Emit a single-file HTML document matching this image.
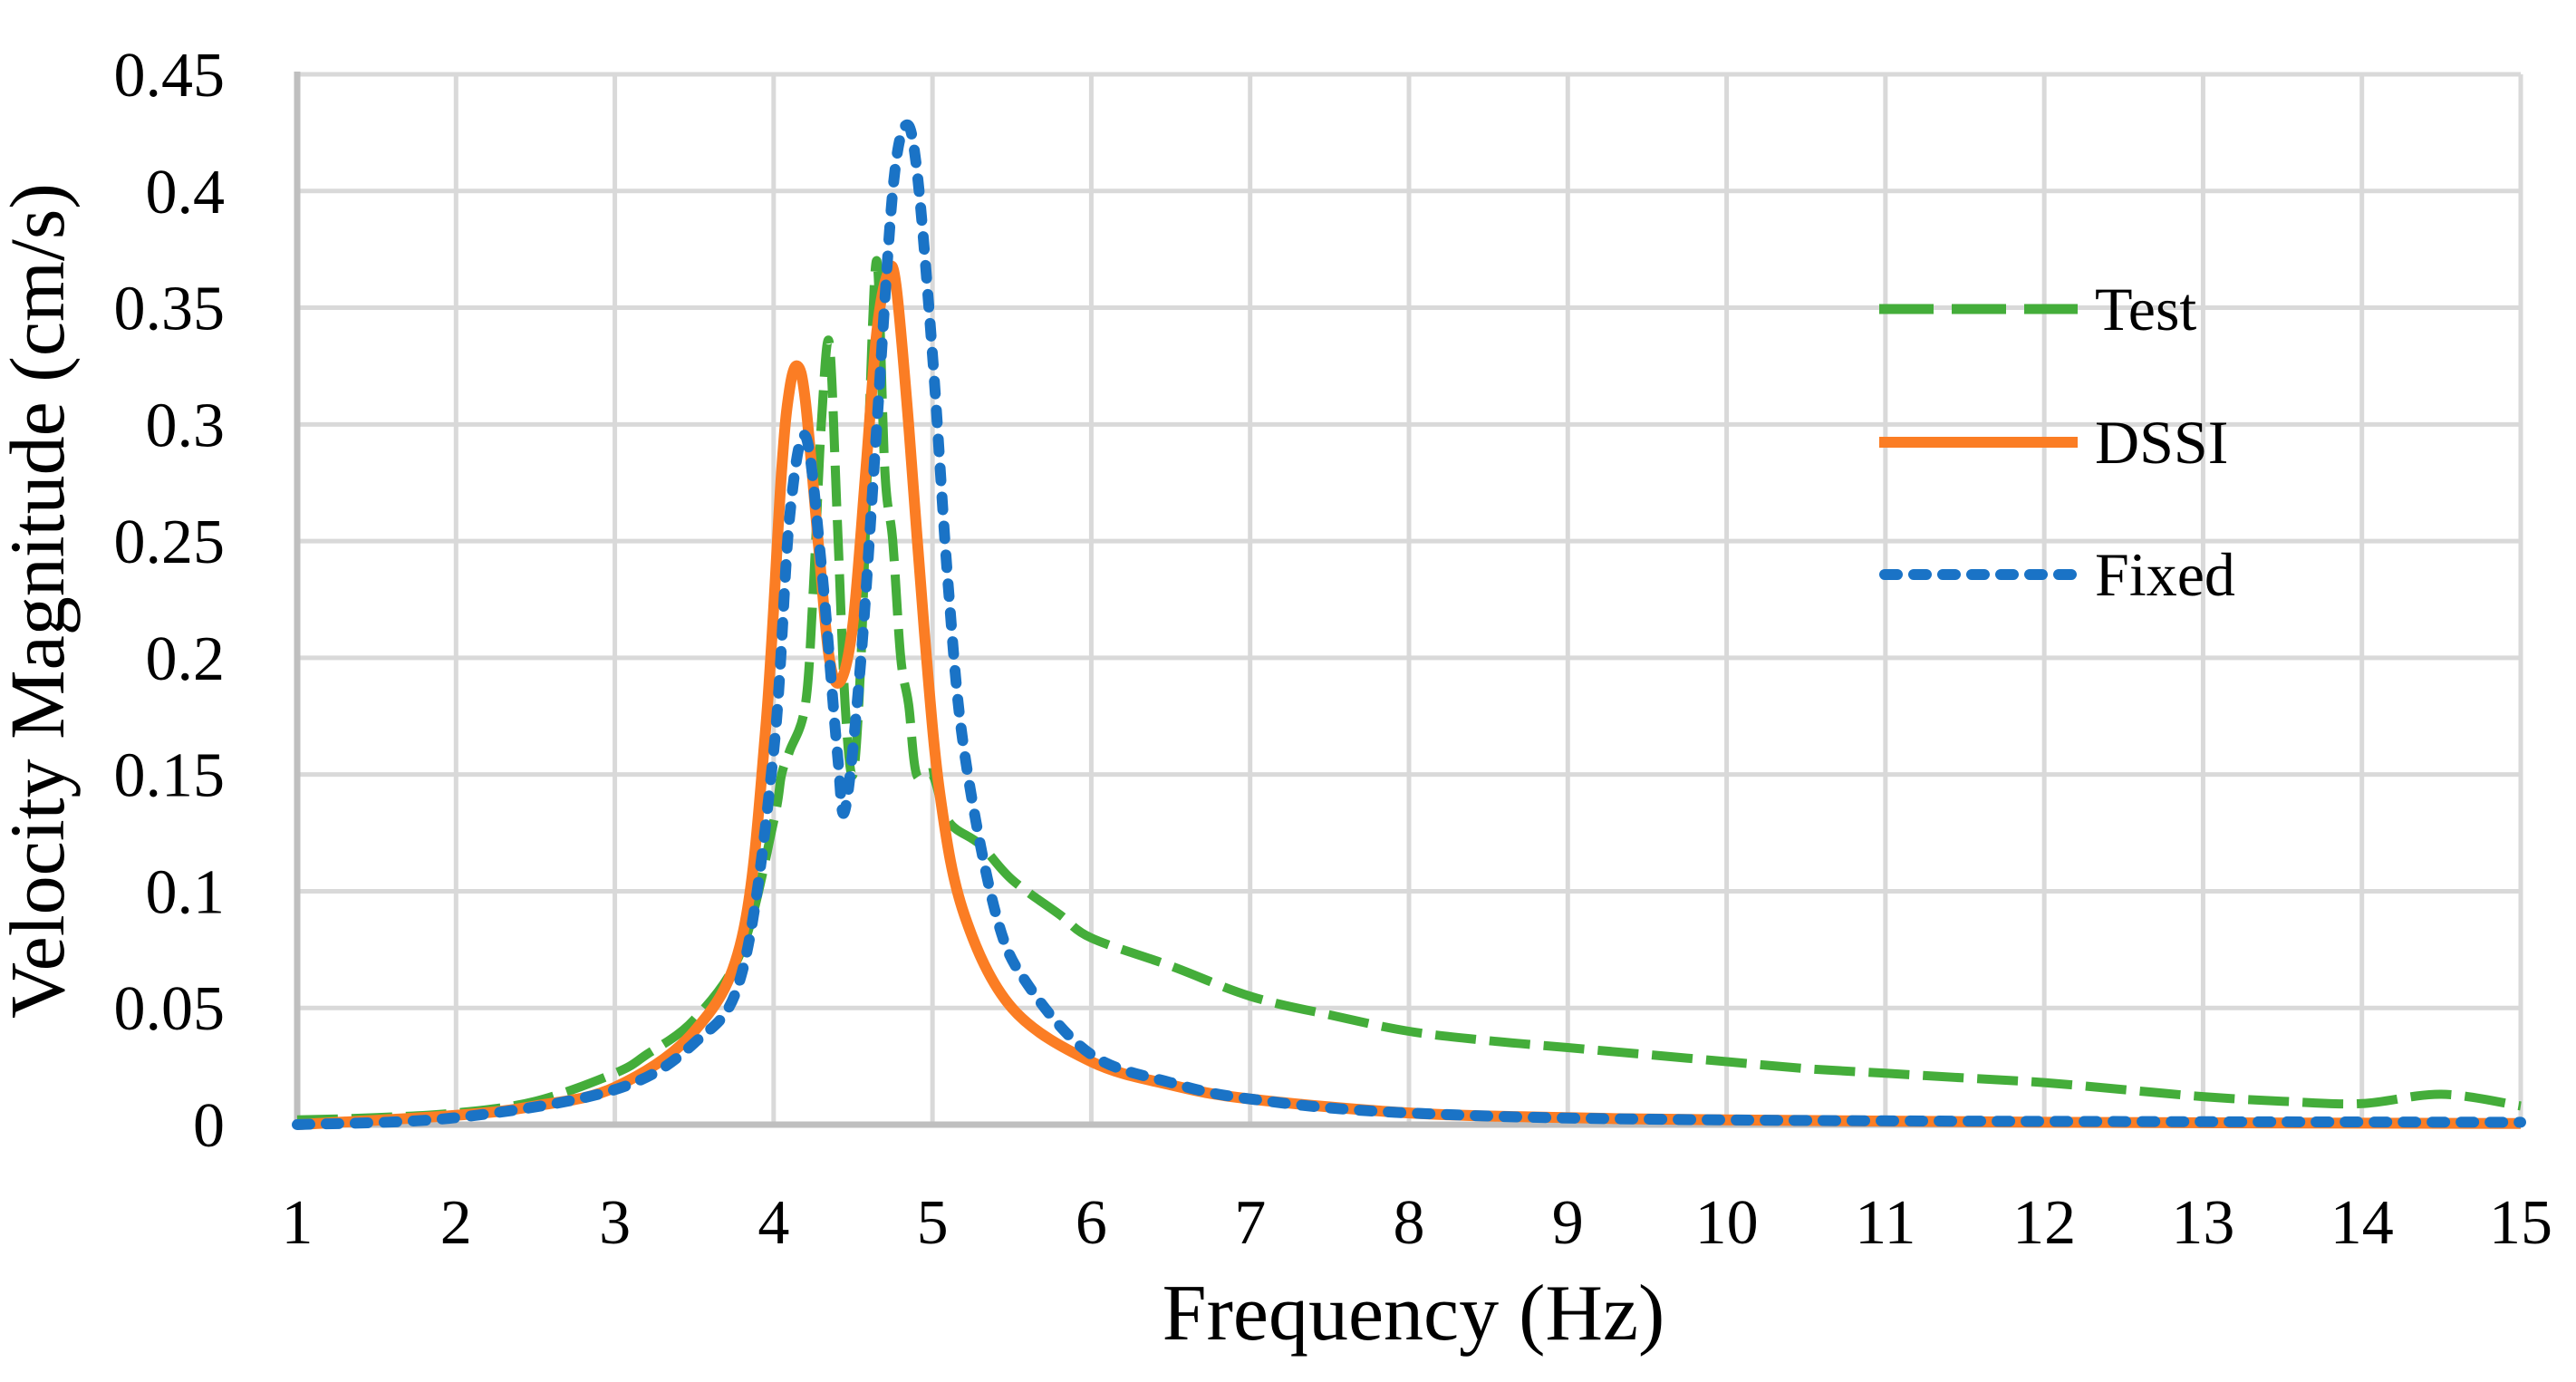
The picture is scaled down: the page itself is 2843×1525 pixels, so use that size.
<!DOCTYPE html>
<html><head><meta charset="utf-8"><style>
html,body{margin:0;padding:0;background:#fff;}
svg{display:block;}
text{font-family:"Liberation Serif",serif;fill:#000;}
</style></head><body>
<svg id="chart" width="2843" height="1525" viewBox="0 0 2843 1525" xmlns="http://www.w3.org/2000/svg">
<g id="grid"></g>
<g id="axes"></g>
<g id="series"></g>
<text x="70" y="663" font-size="86" text-anchor="middle" transform="rotate(-90 70 663)">Velocity Magnitude (cm/s)</text>
<text x="1560" y="1478" font-size="88" text-anchor="middle">Frequency (Hz)</text>
<g>
<g>
<line x1="2074" y1="341" x2="2293" y2="341" stroke="#44ad3a" stroke-width="11" stroke-dasharray="60,20"/>
<text x="2312" y="364" font-size="68">Test</text></g>
<g>
<line x1="2074" y1="488" x2="2293" y2="488" stroke="#fb7d24" stroke-width="12"/>
<text x="2312" y="511" font-size="68">DSSI</text></g>
<g>
<line x1="2080" y1="634" x2="2290" y2="634" stroke="#1a73c6" stroke-width="12" stroke-dasharray="14,18" stroke-linecap="round"/>
<text x="2312" y="657" font-size="68">Fixed</text></g>
</g>
</svg>
<script>
const xTicks=[1,2,3,4,5,6,7,8,9,10,11,12,13,14,15];
const yTicks=[0,0.05,0.1,0.15,0.2,0.25,0.3,0.35,0.4,0.45];
const yTickLabels=["0","0.05","0.1","0.15","0.2","0.25","0.3","0.35","0.4","0.45"];
const testF=[1,1.5,2,2.5,3,3.2,3.5,3.8,4.0,4.05,4.1,4.2,4.25,4.3,4.35,4.4,4.45,4.5,4.55,4.6,4.65,4.7,4.75,4.8,4.85,4.9,5.0,5.1,5.3,5.5,5.8,6,6.5,7,7.5,8,8.5,9,9.5,10,10.5,11,11.5,12,12.5,13,13.5,14,14.5,15];
const testV=[0.002,0.003,0.005,0.01,0.022,0.03,0.045,0.075,0.13,0.15,0.16,0.18,0.23,0.3,0.335,0.26,0.18,0.15,0.2,0.3,0.37,0.28,0.25,0.2,0.18,0.15,0.15,0.13,0.12,0.105,0.09,0.08,0.068,0.055,0.047,0.04,0.036,0.033,0.03,0.027,0.024,0.022,0.02,0.018,0.015,0.012,0.01,0.009,0.013,0.008];
const dssiF=[1,2,2.5,3,3.5,3.8,3.95,4.05,4.1,4.15,4.2,4.28,4.35,4.42,4.5,4.58,4.65,4.72,4.77,4.85,4.95,5.05,5.2,5.5,6,6.5,7,8,9,10,12,15];
const dssiV=[0,0.004,0.008,0.016,0.04,0.08,0.17,0.28,0.315,0.325,0.31,0.25,0.2,0.19,0.215,0.28,0.34,0.365,0.36,0.3,0.21,0.14,0.09,0.05,0.027,0.017,0.011,0.005,0.003,0.002,0.001,0.0005];
const fixedF=[1,2,3,3.5,3.8,4.0,4.1,4.2,4.3,4.4,4.45,4.55,4.65,4.75,4.83,4.9,5.0,5.1,5.2,5.4,5.6,6,6.5,7,8,10,15];
const fixedV=[0,0.003,0.015,0.035,0.065,0.16,0.26,0.295,0.24,0.16,0.135,0.2,0.3,0.4,0.428,0.41,0.33,0.23,0.16,0.09,0.06,0.03,0.018,0.011,0.005,0.002,0.001];

const X0=328,X1=2782,Y0=1241,Y1=82;
const xs=f=>X0+(f-1)/(15-1)*(X1-X0);
const ys=v=>Y0-v/0.45*(Y0-Y1);
const NS="http://www.w3.org/2000/svg";
const grid=document.getElementById('grid'),axes=document.getElementById('axes'),ser=document.getElementById('series');
function mk(tag,attrs,parent){const e=document.createElementNS(NS,tag);for(const k in attrs)e.setAttribute(k,attrs[k]);parent.appendChild(e);return e;}
xTicks.forEach(f=>{
  if(f>1){const l=mk('line',{x1:xs(f),x2:xs(f),y1:Y1,y2:Y0,stroke:'#d9d9d9','stroke-width':5},grid);
  
  }
  const t=mk('text',{x:xs(f),y:1372,'font-size':70,'text-anchor':'middle'},axes);t.textContent=f;
  
  
});
yTicks.forEach((v,i)=>{
  if(v>0){const l=mk('line',{x1:X0,x2:X1,y1:ys(v),y2:ys(v),stroke:'#d9d9d9','stroke-width':5},grid);
  
  }
  const t=mk('text',{x:248,y:ys(v)+24,'font-size':70,'text-anchor':'end'},axes);t.textContent=yTickLabels[i];
  
  
});
const ax=mk('line',{x1:X0,x2:X0,y1:Y1-3,y2:Y0+4,stroke:'#bfbfbf','stroke-width':7},axes);


const axx=mk('line',{x1:X0,x2:X1,y1:Y0,y2:Y0,stroke:'#bfbfbf','stroke-width':7},axes);


function path(F,V){
  const P=F.map((f,i)=>[xs(f),ys(V[i])]);
  let d='M'+P[0][0].toFixed(1)+','+P[0][1].toFixed(1);
  for(let i=0;i<P.length-1;i++){
    const p0=P[Math.max(0,i-1)],p1=P[i],p2=P[i+1],p3=P[Math.min(P.length-1,i+2)];
    const c1=[p1[0]+(p2[0]-p0[0])/6,p1[1]+(p2[1]-p0[1])/6];
    const c2=[p2[0]-(p3[0]-p1[0])/6,p2[1]-(p3[1]-p1[1])/6];
    d+=' C'+c1[0].toFixed(1)+','+c1[1].toFixed(1)+' '+c2[0].toFixed(1)+','+c2[1].toFixed(1)+' '+p2[0].toFixed(1)+','+p2[1].toFixed(1);
  }
  return d;
}
const pt=mk('path',{d:path(testF,testV),fill:'none',stroke:'#44ad3a','stroke-width':10,'stroke-dasharray':'45,15','stroke-linejoin':'round'},ser);


const pd=mk('path',{d:path(dssiF,dssiV),fill:'none',stroke:'#fb7d24','stroke-width':12,'stroke-linejoin':'round'},ser);


const pf=mk('path',{d:path(fixedF,fixedV),fill:'none',stroke:'#1a73c6','stroke-width':12,'stroke-dasharray':'14,18','stroke-linecap':'round','stroke-linejoin':'round'},ser);


</script>
</body></html>
